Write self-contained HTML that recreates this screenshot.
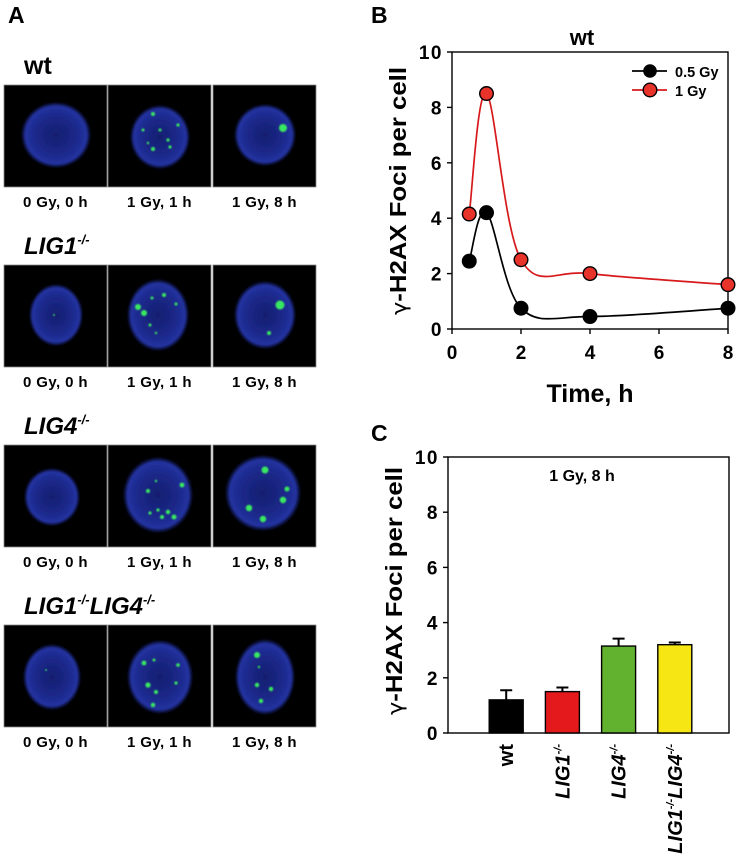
<!DOCTYPE html>
<html><head><meta charset="utf-8"><style>
html,body{margin:0;padding:0;background:#fff;}
svg{display:block;font-family:"Liberation Sans",Arial,sans-serif;font-weight:bold;}
</style></head><body>
<svg id="fig" width="740" height="865" viewBox="0 0 740 865" xmlns="http://www.w3.org/2000/svg">
<defs>
<radialGradient id="nuc" cx="50%" cy="50%" r="50%">
<stop offset="0%" stop-color="#141e70"/><stop offset="55%" stop-color="#1b2888"/><stop offset="88%" stop-color="#2232a0"/><stop offset="100%" stop-color="#101850" stop-opacity="0.2"/>
</radialGradient>
<filter id="blur" x="-20%" y="-20%" width="140%" height="140%"><feGaussianBlur stdDeviation="0.9"/></filter>
</defs>
<g id="panelA"></g>
<g id="panelB"></g>
<g id="panelC"></g>
</svg>
<script>
// ---- Panel B data ----
const timesB = [0.5, 1, 2, 4, 8];
const dose05 = [2.45, 4.2, 0.75, 0.45, 0.75];
const dose1 = [4.15, 8.5, 2.5, 2.0, 1.6];
const xTicksB = [0, 2, 4, 6, 8];
const yTicks = [0, 2, 4, 6, 8, 10];
// ---- Panel C data ----
const genotypes = ["wt", "LIG1", "LIG4", "LIG1LIG4"];
const barValues = [1.2, 1.5, 3.15, 3.2];
const barErrors = [0.35, 0.15, 0.27, 0.08];
const barColors = ["#000000", "#e3191c", "#62b22f", "#f5e614"];

const NS = "http://www.w3.org/2000/svg";
function mk(tag, attrs, parent, text) {
  const e = document.createElementNS(NS, tag);
  for (const k in attrs) e.setAttribute(k, attrs[k]);
  if (text !== undefined) e.textContent = text;
  parent.appendChild(e);
  return e;
}

// ---------- Panel A ----------
const A = document.getElementById('panelA');
let t = mk('text', {x: 8, y: 23, 'font-size': 23}, A, 'A');


const rowTops = [85, 265, 445, 625];
const colLefts = [4, 108, 213];
const boxW = 103, boxH = 102;
const rowTitles = ['wt', 'LIG1', 'LIG4', 'LIG1LIG4'];
const colLabels = ['0 Gy, 0 h', '1 Gy, 1 h', '1 Gy, 8 h'];
const cells = [
 [[[52,50,35,33],[]],[[52,52,30,32],[[45,29,2],[70,40,1.6],[35,45,1.5],[52,45,1.5],[60,55,1.6],[45,64,2],[62,62,1.6],[40,58,1.2]]],[[52,50,31,31],[[70,43,4]]]],
 [[[52,50,27,31],[[50,50,1]]],[[50,50,31,36],[[30,42,3],[36,48,3],[56,30,2],[68,39,1.5],[44,33,1.5],[42,60,1.5],[48,68,1.2]]],[[52,50,31,34],[[67,40,4.5],[56,68,2]]]],
 [[[48,52,28,29],[]],[[50,50,35,38],[[40,46,2],[74,40,2.4],[50,65,1.6],[60,67,2.2],[66,72,2.5],[54,72,2],[42,68,1.6],[48,36,1.2]]],[[50,48,38,38],[[52,25,3.5],[74,44,2.5],[70,55,3.2],[36,63,3.2],[50,74,3.2]]]],
 [[[48,52,29,33],[[42,45,1]]],[[52,52,33,37],[[36,38,2.4],[40,60,2.6],[48,67,2],[70,40,1.8],[46,35,1.5],[45,80,2.2],[68,58,1.6]]],[[52,52,30,38],[[44,30,3],[44,60,2.2],[58,64,2.2],[48,76,2.2],[46,42,1.2]]]]
];
rowTitles.forEach((name, r) => {
  const g = mk('g', {}, A);
  
  
  const ty = rowTops[r] - 11;
  if (name === 'wt') {
    mk('text', {x: 24, y: ty, 'font-size': 25}, g, 'wt');
  } else if (name === 'LIG1LIG4') {
    const tx = mk('text', {x: 24, y: ty, 'font-size': 24, 'font-style': 'italic'}, g);
    mk('tspan', {}, tx, 'LIG1');
    mk('tspan', {'font-size': 13, dy: -10}, tx, '-/-');
    mk('tspan', {dy: 10}, tx, 'LIG4');
    mk('tspan', {'font-size': 13, dy: -10}, tx, '-/-');
  } else {
    const tx = mk('text', {x: 24, y: ty, 'font-size': 24, 'font-style': 'italic'}, g);
    mk('tspan', {}, tx, name);
    mk('tspan', {'font-size': 13, dy: -10}, tx, '-/-');
  }
  colLefts.forEach((cx, c) => {
    const cg = mk('g', {transform: 'translate(' + cx + ',' + rowTops[r] + ')'}, A);
    
    
    mk('rect', {x: 0, y: 0, width: boxW, height: boxH, fill: '#000', stroke: '#888', 'stroke-width': 0.8}, cg);
    const d = cells[r][c];
    const n = d[0];
    mk('ellipse', {cx: n[0], cy: n[1], rx: n[2], ry: n[3], fill: 'url(#nuc)', filter: 'url(#blur)'}, cg);
    d[1].forEach(f => mk('circle', {cx: f[0], cy: f[1], r: f[2], fill: '#39e860', filter: 'url(#blur)'}, cg));
    const lb = mk('text', {x: cx + boxW/2, y: rowTops[r] + boxH + 20, 'font-size': 15, 'letter-spacing': 0.4, 'text-anchor': 'middle'}, A, colLabels[c]);
    
    
  });
});

// ---------- Panel B ----------
const B = document.getElementById('panelB');
const bx0 = 452, bx1 = 728, by0 = 329, by1 = 52;
const xB = v => bx0 + (v / 8) * (bx1 - bx0);
const yB = v => by0 - (v / 10) * (by0 - by1);
t = mk('text', {x: 371, y: 23, 'font-size': 23}, B, 'B');
 
t = mk('text', {x: 582, y: 45, 'font-size': 22, 'text-anchor': 'middle'}, B, 'wt');
 
const fr = mk('rect', {x: bx0, y: by1, width: bx1 - bx0, height: by0 - by1, fill: 'none', stroke: '#000', 'stroke-width': 1.4}, B);
 
yTicks.forEach(v => {
  mk('line', {x1: bx0 - 5, x2: bx0, y1: yB(v), y2: yB(v), stroke: '#000', 'stroke-width': 1.4}, B);
  const l = mk('text', {x: bx0 - 9, y: yB(v) + 7, 'font-size': 19, 'letter-spacing': 1.5, 'text-anchor': 'end'}, B, String(v));
   
});
xTicksB.forEach(v => {
  mk('line', {x1: xB(v), x2: xB(v), y1: by0, y2: by0 + 5, stroke: '#000', 'stroke-width': 1.4}, B);
  const l = mk('text', {x: xB(v), y: by0 + 30, 'font-size': 19, 'text-anchor': 'middle'}, B, String(v));
   
});
t = mk('text', {x: 590, y: 402, 'font-size': 25, 'text-anchor': 'middle'}, B, 'Time, h');
 
function yTitle(parent, cx, cy, len) {
  const tt = mk('text', {transform: 'translate(' + cx + ',' + cy + ') rotate(-90)', 'font-size': 23, 'text-anchor': 'middle', textLength: len, lengthAdjust: 'spacingAndGlyphs'}, parent);
  mk('tspan', {'font-weight': 'normal', 'font-family': '"DejaVu Sans",sans-serif', 'font-size': 20}, tt, 'γ');
  mk('tspan', {}, tt, '-H2AX Foci per cell');
   
}
yTitle(B, 406, 191, 248);
function spline(xs, ys) {
  const p = xs.map((x, i) => [xB(x), yB(ys[i])]);
  let d = 'M' + p[0][0] + ',' + p[0][1];
  for (let i = 0; i < p.length - 1; i++) {
    const p0 = p[Math.max(0, i-1)], p1 = p[i], p2 = p[i+1], p3 = p[Math.min(p.length-1, i+2)];
    const c1 = [p1[0] + (p2[0]-p0[0])/6, p1[1] + (p2[1]-p0[1])/6];
    const c2 = [p2[0] - (p3[0]-p1[0])/6, p2[1] - (p3[1]-p1[1])/6];
    d += ' C' + c1 + ' ' + c2 + ' ' + p2;
  }
  return d;
}
[[dose05, '#000', '#000', 'dose-0.5gy'], [dose1, '#d7191c', '#e8332a', 'dose-1gy']].forEach(s => {
  const ln = mk('path', {d: spline(timesB, s[0]), fill: 'none', stroke: s[1], 'stroke-width': 1.7}, B);
   
  s[0].forEach((v, i) => {
    const c = mk('circle', {cx: xB(timesB[i]), cy: yB(v), r: 6.8, fill: s[2], stroke: '#000', 'stroke-width': 1.4}, B);
     
  });
});
const lg = mk('g', {}, B);
 
mk('line', {x1: 632, x2: 667, y1: 71, y2: 71, stroke: '#000', 'stroke-width': 1.7}, lg);
mk('circle', {cx: 650, cy: 71, r: 6.8, fill: '#000'}, lg);
mk('text', {x: 675, y: 77, 'font-size': 14.5}, lg, '0.5 Gy');
mk('line', {x1: 632, x2: 667, y1: 90, y2: 90, stroke: '#d7191c', 'stroke-width': 1.7}, lg);
mk('circle', {cx: 650, cy: 90, r: 6.8, fill: '#e8332a', stroke: '#000', 'stroke-width': 1.4}, lg);
mk('text', {x: 675, y: 96, 'font-size': 14.5}, lg, '1 Gy');

// ---------- Panel C ----------
const C = document.getElementById('panelC');
const cx0 = 448, cx1 = 729, cy0 = 733, cy1 = 457;
const slot = (cx1 - cx0) / 5;
const xC = i => cx0 + slot * (i + 1) + 2;
const yC = v => cy0 - (v / 10) * (cy0 - cy1);
const bw = 34;
t = mk('text', {x: 371, y: 441, 'font-size': 23}, C, 'C');
 
t = mk('rect', {x: cx0, y: cy1, width: cx1 - cx0, height: cy0 - cy1, fill: 'none', stroke: '#000', 'stroke-width': 1.4}, C);
 
yTicks.forEach(v => {
  mk('line', {x1: cx0 - 5, x2: cx0, y1: yC(v), y2: yC(v), stroke: '#000', 'stroke-width': 1.4}, C);
  const l = mk('text', {x: cx0 - 9, y: yC(v) + 7, 'font-size': 19, 'letter-spacing': 1.5, 'text-anchor': 'end'}, C, String(v));
   
});
yTitle(C, 402, 591, 248);
t = mk('text', {x: 582, y: 481, 'font-size': 16, 'text-anchor': 'middle'}, C, '1 Gy, 8 h');
 
genotypes.forEach((g, i) => {
  const x = xC(i);
  const top = yC(barValues[i] + barErrors[i]);
  const e = mk('path', {d: 'M' + x + ',' + yC(barValues[i]) + ' V' + top + ' M' + (x - 6) + ',' + top + ' H' + (x + 6), stroke: '#000', 'stroke-width': 2, fill: 'none'}, C);
   
  const r = mk('rect', {x: x - bw/2, y: yC(barValues[i]), width: bw, height: cy0 - yC(barValues[i]), fill: barColors[i], stroke: '#000', 'stroke-width': 1.4}, C);
   
  const tx = mk('text', {transform: 'translate(' + (x + 7) + ',' + (cy0 + 11) + ') rotate(-90)', 'font-size': 20, 'text-anchor': 'end'}, C);
   
  if (g === 'wt') mk('tspan', {}, tx, 'wt');
  else if (g === 'LIG1LIG4') {
    tx.setAttribute('font-style', 'italic');
    mk('tspan', {}, tx, 'LIG1'); mk('tspan', {'font-size': 11, dy: -8}, tx, '-/-');
    mk('tspan', {dy: 8}, tx, 'LIG4'); mk('tspan', {'font-size': 11, dy: -8}, tx, '-/-');
  } else {
    tx.setAttribute('font-style', 'italic');
    mk('tspan', {}, tx, g); mk('tspan', {'font-size': 11, dy: -8}, tx, '-/-');
  }
});
</script>
</body></html>
